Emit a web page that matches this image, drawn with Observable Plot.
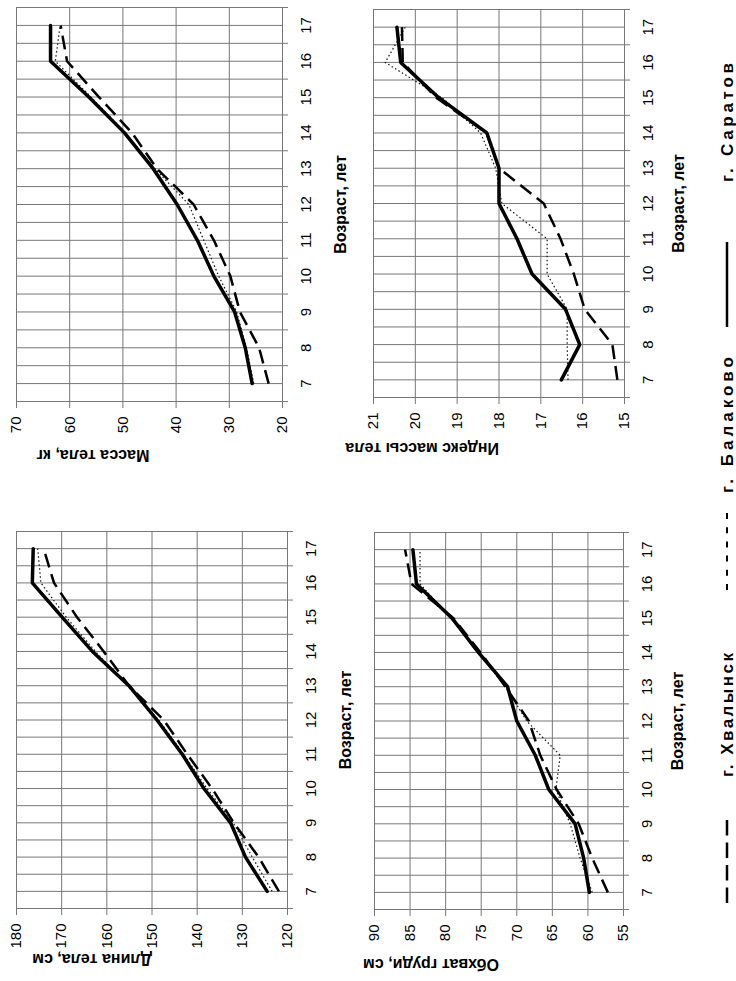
<!DOCTYPE html>
<html><head><meta charset="utf-8">
<script src="https://cdn.jsdelivr.net/npm/d3@7"></script>
<script src="https://cdn.jsdelivr.net/npm/@observablehq/plot@0.6"></script>
<style>
html,body{margin:0;padding:0;background:#fff;overflow:hidden;width:736px;height:981px;}
#fig{position:absolute;left:0;top:0;width:981px;height:736px;transform-origin:0 0;transform:translate(0px,981px) rotate(-90deg);background:#fff;font-family:"Liberation Sans",Arial,sans-serif;}
</style></head><body><div id="fig"></div><script>
// ---- data ----
const ages = [7, 8, 9, 10, 11, 12, 13, 14, 15, 16, 17];
const ageGrid = [6.5, 7, 7.5, 8, 8.5, 9, 9.5, 10, 10.5, 11, 11.5, 12, 12.5, 13, 13.5, 14, 14.5, 15, 15.5, 16, 16.5, 17, 17.5];
const ageTickMarks = [6.5, 7.5, 8.5, 9.5, 10.5, 11.5, 12.5, 13.5, 14.5, 15.5, 16.5, 17.5];
const cities = ["г. Хвалынск", "г. Балаково", "г. Саратов"];

const lengthSaratov = [124.5, 129.3, 132.6, 138.5, 143.3, 148.9, 155.1, 163.2, 169.9, 176.5, 176.3];
const lengthKhvalynsk = [121.9, 126.4, 131.9, 136.7, 142.2, 147.4, 155.1, 160.7, 166.6, 171.7, 174.0];
const lengthBalakovo = [123.4, 127.8, 132.0, 137.8, 143.0, 148.5, 155.5, 162.5, 169.0, 174.6, 175.3];
const lengthTicks = [120, 130, 140, 150, 160, 170, 180];

const massSaratov = [25.7, 27.0, 29.0, 32.9, 36.0, 39.8, 44.3, 49.7, 56.4, 63.6, 63.6];
const massKhvalynsk = [22.6, 24.4, 28.0, 29.8, 32.9, 36.7, 43.6, 48.3, 54.5, 60.5, 61.7];
const massBalakovo = [25.4, 26.8, 28.6, 32.0, 34.8, 37.6, 44.0, 49.5, 56.0, 62.7, 61.8];
const massTicks = [20, 30, 40, 50, 60, 70];

const chestSaratov = [59.8, 60.6, 61.8, 65.5, 67.4, 70.0, 71.3, 75.4, 79.1, 84.1, 84.6];
const chestKhvalynsk = [57.2, 59.4, 61.3, 64.4, 66.7, 68.3, 71.6, 75.1, 78.9, 84.8, 85.7];
const chestBalakovo = [59.4, 61.1, 62.5, 64.5, 63.9, 68.6, 71.6, 75.4, 79.3, 83.6, 83.6];
const chestTicks = [55, 60, 65, 70, 75, 80, 85, 90];

const bmiSaratov = [16.51, 16.07, 16.41, 17.21, 17.57, 18.0, 18.0, 18.29, 19.44, 20.35, 20.44];
const bmiKhvalynsk = [15.17, 15.29, 15.95, 16.21, 16.53, 16.93, 18.0, 18.3, 19.5, 20.3, 20.32];
const bmiBalakovo = [16.35, 16.37, 16.37, 16.85, 16.85, 17.93, 18.08, 18.44, 19.36, 20.72, 20.24];
const bmiTicks = [15, 16, 17, 18, 19, 20, 21];

// ---- styles ----
const GRID = "#777";
const lineStyle = {
  "г. Балаково": {stroke: "#111", strokeWidth: 1.2, strokeDasharray: "1.5,2.5", strokeLinecap: "butt"},
  "г. Хвалынск": {stroke: "#000", strokeWidth: 2.5, strokeDasharray: "14,7", strokeLinecap: "butt"},
  "г. Саратов": {stroke: "#000", strokeWidth: 3.5, strokeLinejoin: "miter"}
};
const fig = document.getElementById("fig");

function panel(cfg) {
  const series = {"г. Хвалынск": cfg.kh, "г. Балаково": cfg.ba, "г. Саратов": cfg.sa};
  const order = ["г. Балаково", "г. Хвалынск", "г. Саратов"];
  const lineMarks = order.map(c => Plot.line(ages.map((a, i) => ({age: a, value: series[c][i]})), {x: "age", y: "value", ...lineStyle[c]}));
  const p = Plot.plot({
    width: cfg.width, height: cfg.height,
    marginLeft: cfg.ml, marginRight: cfg.mr, marginTop: cfg.mt, marginBottom: cfg.mb,
    x: {domain: [6.5, 17.5]},
    y: {domain: cfg.domain},
    style: {fontFamily: '"Liberation Sans", Arial, sans-serif', color: "#000", background: "transparent", overflow: "visible"},
    marks: [
      Plot.gridX(ageGrid, {stroke: GRID, strokeOpacity: 1, strokeWidth: 1}),
      Plot.gridY(cfg.ticks, {stroke: GRID, strokeOpacity: 1, strokeWidth: 1}),
      Plot.axisX(ageTickMarks, {tickSize: 6, fill: "none", stroke: GRID, label: null}),
      Plot.axisX(ages, {tickSize: 0, tickPadding: 18, fontSize: 15, label: null}),
      Plot.axisY(cfg.ticks, {tickSize: 6, tickPadding: 9, stroke: GRID, fontSize: 15, label: null}),
      Plot.ruleX([6.5], {stroke: GRID}),
      Plot.ruleY([cfg.domain[0]], {stroke: GRID}),
      ...lineMarks,
      Plot.text([cfg.title], {text: d => d, frameAnchor: "left", rotate: -90, dx: cfg.titleDx, lineAnchor: "middle", fontWeight: "bold", fontSize: 16}),
      Plot.text(["Возраст, лет"], {text: d => d, frameAnchor: "bottom", dy: cfg.ageDy, lineAnchor: "middle", fontWeight: "bold", fontSize: 16})
    ]
  });
  p.style.position = "absolute";
  p.style.left = cfg.left + "px";
  p.style.top = cfg.top + "px";
  fig.appendChild(p);
}

panel({title: "Длина тела, см", kh: lengthKhvalynsk, ba: lengthBalakovo, sa: lengthSaratov, domain: [120, 180], ticks: lengthTicks,
  left: 0, top: 0, width: 460, height: 370, ml: 72, mr: 11, mt: 16, mb: 83, titleDx: -51, ageDy: 58.5});
panel({title: "Масса тела, кг", kh: massKhvalynsk, ba: massBalakovo, sa: massSaratov, domain: [20, 70], ticks: massTicks,
  left: 490, top: 0, width: 490, height: 370, ml: 89, mr: 7, mt: 16, mb: 88, titleDx: -54, ageDy: 58.5});
panel({title: "Обхват груди, см", kh: chestKhvalynsk, ba: chestBalakovo, sa: chestSaratov, domain: [55, 90], ticks: chestTicks,
  left: 0, top: 340, width: 460, height: 396, ml: 71, mr: 12, mt: 34, mb: 113, titleDx: -55, ageDy: 54});
panel({title: "Индекс массы тела", kh: bmiKhvalynsk, ba: bmiBalakovo, sa: bmiSaratov, domain: [15, 21], ticks: bmiTicks,
  left: 490, top: 340, width: 490, height: 396, ml: 93, mr: 9, mt: 33, mb: 112, titleDx: -51, ageDy: 54});

// ---- legend ----
const legendItems = [
  {city: cities[0], x1: 78, x2: 161, tx: 204, tw: 124, dash: "15.5,7", w: 2.5},
  {city: cities[1], x1: 391, x2: 468, tx: 488, tw: 136, dash: "6,8.2", w: 2},
  {city: cities[2], x1: 654, x2: 739, tx: 799, tw: 119, dash: null, w: 2.5}
];
const lg = d3.create("svg").attr("width", 981).attr("height", 36)
  .style("position", "absolute").style("left", "0px").style("top", "700px").style("overflow", "visible");
for (const it of legendItems) {
  const l = lg.append("line").attr("x1", it.x1).attr("x2", it.x2).attr("y1", 27).attr("y2", 27)
    .attr("stroke", "#000").attr("stroke-width", it.w);
  if (it.dash) l.attr("stroke-dasharray", it.dash);
  lg.append("text").attr("x", it.tx).attr("y", 32.5).attr("textLength", it.tw).attr("lengthAdjust", "spacing")
    .attr("font-family", '"Liberation Sans", Arial, sans-serif').attr("font-weight", "bold").attr("font-size", 17)
    .text(it.city);
}
fig.appendChild(lg.node());
</script></body></html>
